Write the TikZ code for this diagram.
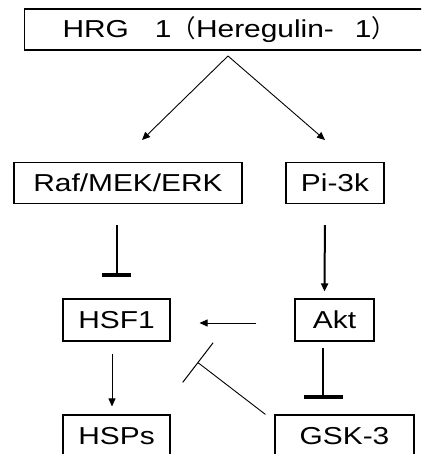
\documentclass[tikz,border=0pt]{standalone}
\usepackage{fontspec}
\setmainfont[FakeStretch=1.22]{Liberation Sans}
\newfontfamily\cjkfont{Noto Sans CJK SC}
\usetikzlibrary{arrows.meta}
\begin{document}
\begin{tikzpicture}[x=1pt,y=-1pt,font=\fontsize{24.5}{29}\selectfont,
  box/.style={rectangle,draw,line width=1.1pt,inner sep=0pt,minimum height=41pt},
  act/.style={-{Triangle[length=8pt,width=7pt]},line width=0.9pt},
  inhib/.style={-{Bar[width=#1,line width=4pt]},line width=2pt}]
\useasboundingbox (0,0) rectangle (421,454);
\clip (0,0) rectangle (421,454);
\node[box,anchor=west,minimum width=421pt,text width=345pt,inner xsep=38pt,align=left] (hrg) at (24,29.5)
  {\mbox{HRG\hspace{26pt}1{\cjkfont （}Heregulin-\hspace{21pt}1{\cjkfont ）}}};
\node[box,minimum width=228pt] (raf) at (128,183) {Raf/MEK/ERK};
\node[box,minimum width=98pt] (pi) at (335,183) {Pi-3k};
\node[box,minimum width=107pt,minimum height=42pt] (hsf) at (116.5,320) {HSF1};
\node[box,minimum width=79pt,minimum height=42pt] (akt) at (334.5,320) {Akt};
\node[box,minimum width=107pt,minimum height=42pt] (hsps) at (116.5,436) {HSPs};
\node[box,minimum width=139pt,minimum height=42pt] (gsk) at (344.5,436) {GSK-3};
\coordinate (split) at (228,56);
\coordinate (tipl) at (142,140);
\coordinate (tipr) at (325,140);
\path[act] (split) edge (tipl) edge (tipr);
\path[inhib=29pt,shorten <=21pt,shorten >=21pt] (hsf.north |- raf.south) edge (hsf.north);
\path[act,line width=2pt,shorten <=21pt,shorten >=7pt] ([xshift=-10pt]pi.south) edge ([xshift=-10pt]akt.north);
\path[act,shorten <=38pt,shorten >=29pt] ([yshift=-3pt]akt.west) edge ([yshift=-3pt]hsf.east);
\path[act,shorten <=12pt,shorten >=8pt] ([xshift=-4.5pt]hsf.south) edge ([xshift=-4.5pt]hsps.north);
\path[inhib=39pt,shorten <=6pt,shorten >=15pt] ([xshift=-11.5pt]akt.south) edge ([xshift=-11.5pt]akt.south |- gsk.north);
\path[-{Bar[width=50pt,line width=1pt]},line width=0.9pt,shorten >=34pt] ([xshift=-9pt]gsk.north west) edge (hsf.south east);
\end{tikzpicture}
\end{document}
